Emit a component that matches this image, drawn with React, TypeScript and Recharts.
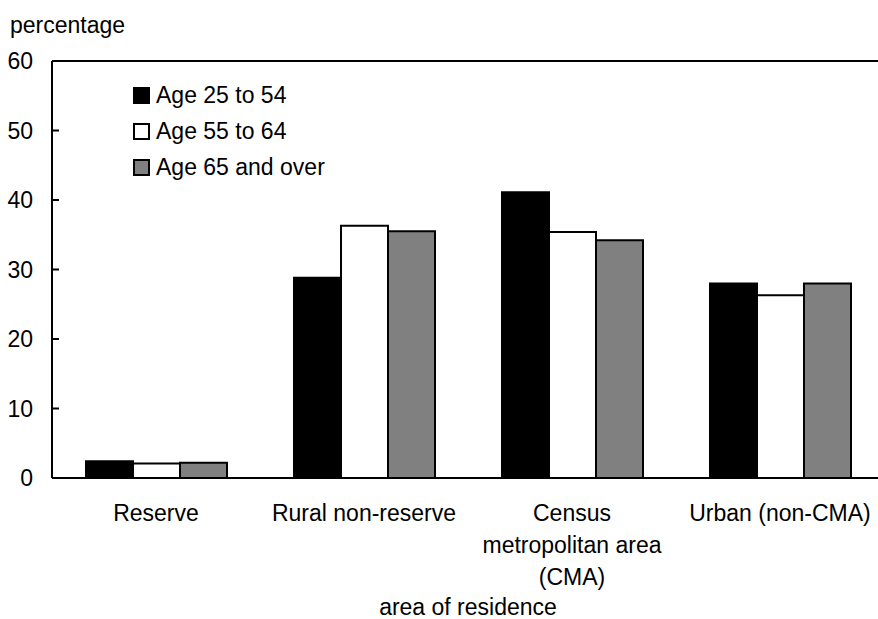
import React from 'react';
import { BarChart, Bar, XAxis, YAxis, ReferenceLine, Legend } from 'recharts';

// Share of population by area of residence, per age group
const areas = ['Reserve', 'Rural non-reserve', 'Census\nmetropolitan area\n(CMA)', 'Urban (non-CMA)'];
const age25to54 = [2.4, 28.8, 41.1, 28.0];
const age55to64 = [2.1, 36.3, 35.4, 26.3];
const age65plus = [2.2, 35.5, 34.2, 28.0];
const yTicks = [0, 10, 20, 30, 40, 50, 60];

const seriesNames = ['Age 25 to 54', 'Age 55 to 64', 'Age 65 and over'];
const seriesFills = ['#000000', '#ffffff', '#808080'];

const FONT = '"Liberation Sans", Arial, Helvetica, sans-serif';
const FS = 23;

const data = areas.map((area, i) => ({
  area,
  a: age25to54[i],
  b: age55to64[i],
  c: age65plus[i],
}));

const YTick = (props: any) => {
  const { x, y, payload } = props;
  return (
    <g>
      <line x1={x} x2={x + 7} y1={y} y2={y} stroke="#000" strokeWidth={2} />
      <text x={x - 19} y={y + 8} textAnchor="end" fontSize={FS} fontFamily={FONT} fill="#000">
        {payload.value}
      </text>
    </g>
  );
};

const XTick = (props: any) => {
  const { x, y, payload } = props;
  const lines = String(payload.value).split('\n');
  return (
    <text x={x} y={y + 43} textAnchor="middle" fontSize={FS} fontFamily={FONT} fill="#000">
      {lines.map((l, i) => (
        <tspan key={i} x={x} dy={i === 0 ? 0 : 32}>
          {l}
        </tspan>
      ))}
    </text>
  );
};

const LegendBox = () => (
  <div style={{ fontFamily: FONT, fontSize: FS, color: '#000' }}>
    {seriesNames.map((name, i) => (
      <div key={name} style={{ display: 'flex', alignItems: 'center', height: 36 }}>
        <span
          style={{
            display: 'inline-block',
            width: 13,
            height: 13,
            background: seriesFills[i],
            border: '2px solid #000',
            marginRight: 6,
          }}
        />
        <span>{name}</span>
      </div>
    ))}
  </div>
);

const App: React.FC = () => {
  return (
    <div style={{ position: 'absolute', left: 0, top: 0, width: 878, height: 619, overflow: 'hidden', background: '#fff' }}>
      <div
        style={{
          position: 'absolute',
          left: 10,
          top: 14,
          fontFamily: FONT,
          fontSize: FS,
          lineHeight: '23px',
          color: '#000',
        }}
      >
        percentage
      </div>
      <BarChart
        width={884}
        height={619}
        data={data}
        margin={{ top: 61, right: 0, bottom: 0, left: 0 }}
        barCategoryGap={34}
        barGap={0}
      >
        <XAxis
          dataKey="area"
          height={141}
          tickLine={false}
          tickSize={0}
          tickMargin={0}
          axisLine={{ stroke: '#000', strokeWidth: 2 }}
          tick={<XTick />}
          interval={0}
          label={{ value: 'area of residence', position: 'insideBottom', offset: 4, fontSize: FS, fontFamily: FONT, fill: '#000' }}
        />
        <YAxis
          width={52}
          domain={[0, 60]}
          ticks={yTicks}
          tickLine={false}
          tickSize={0}
          tickMargin={0}
          axisLine={{ stroke: '#000', strokeWidth: 2 }}
          tick={<YTick />}
        />
        <ReferenceLine y={60} stroke="#000" strokeWidth={2} />
        <Legend
          layout="vertical"
          align="center"
          verticalAlign="middle"
          content={<LegendBox />}
          wrapperStyle={{ top: 77, left: 133, width: 260 }}
        />
        <Bar dataKey="a" name={seriesNames[0]} fill={seriesFills[0]} stroke="#000" strokeWidth={2} isAnimationActive={false} />
        <Bar dataKey="b" name={seriesNames[1]} fill={seriesFills[1]} stroke="#000" strokeWidth={2} isAnimationActive={false} />
        <Bar dataKey="c" name={seriesNames[2]} fill={seriesFills[2]} stroke="#000" strokeWidth={2} isAnimationActive={false} />
      </BarChart>
    </div>
  );
};

export default App;
